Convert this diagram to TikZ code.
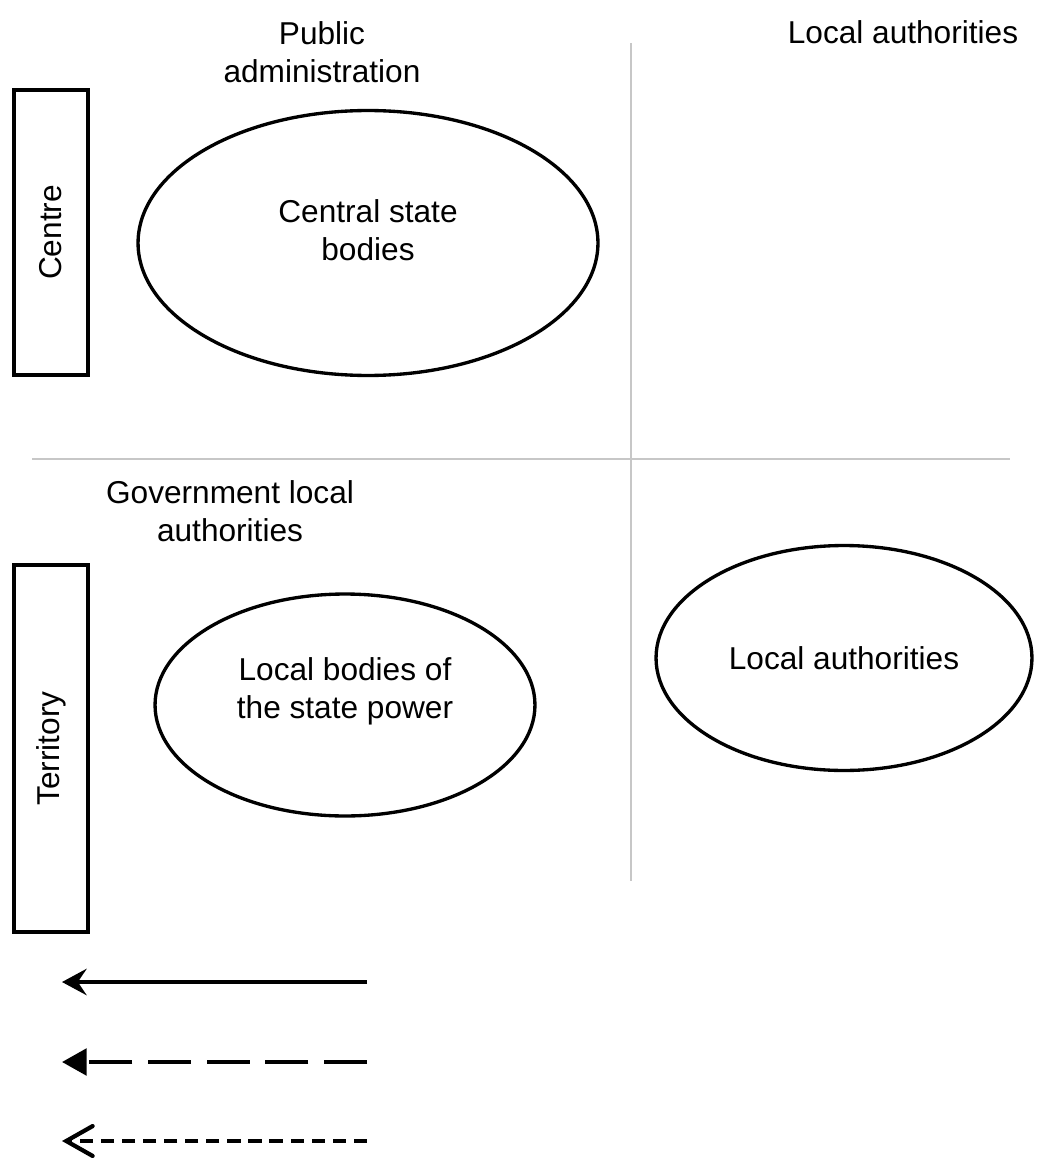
\documentclass[tikz,border=0pt]{standalone}
\usepackage{fontspec}
\setmainfont{Liberation Sans}
\usetikzlibrary{arrows.meta,shapes.geometric}

\begin{document}
\begin{tikzpicture}[x=0.02cm, y=-0.02cm,
        sidebox/.style={draw, line width=2.2pt, rotate=90, minimum height=1.48cm, inner sep=0pt},
        body/.style={draw, ellipse, line width=1.9pt, inner sep=0pt},
        divider/.style={line width=1.1pt, black!22},
        lbl/.style={align=center},
        solidline/.style={line width=2.5pt, -{Stealth[length=14pt, width=15pt, inset=5pt]}},
        longdash/.style={line width=2.4pt, dash pattern=on 24.4pt off 9pt, -{Triangle[length=14pt, width=15pt]}},
        shortdash/.style={line width=2.4pt, dash pattern=on 7.5pt off 4.5pt, -{Straight Barb[length=15pt, width=17pt, line cap=round]}}]
        \useasboundingbox (0,0) rectangle (1040,1169);
        \fontsize{18}{21.5}\selectfont

        % Разделители
        \coordinate (vtop) at (631,43);
        \coordinate (vbot) at (631,881);
        \coordinate (hleft) at (32,459);
        \coordinate (hright) at (1010,459);
        \draw[divider] (vtop) -- (vbot);
        \draw[divider] (hleft) -- (hright);

        % Заголовки
        \node[lbl] (pubadm) at (322,52) {Public\\administration};
        \node (loctop) at (903,32) {Local authorities};
        \node[lbl] (govloc) at (230,511) {Government local\\authorities};

        % Уровни
        \node[sidebox, minimum width=5.7cm] (centre) at (51,232.5) {Centre};
        \node[sidebox, minimum width=7.34cm] (territory) at (51,748.5) {Territory};

        % Органы
        \node[body, minimum width=9.2cm, minimum height=5.3cm] (csb) at (368,243) {};
        \node[lbl] (csbtext) at (368,230) {Central state\\bodies};
        \node[body, minimum width=7.6cm, minimum height=4.44cm] (lbsp) at (345,705) {};
        \node[lbl] (lbsptext) at (345,691) {Local bodies of\\the state power};
        \node[body, minimum width=7.52cm, minimum height=4.5cm] (locauth) at (844,658) {Local authorities};

        % Стрелки
        \coordinate (s1) at (367,982);
        \coordinate (e1) at (62,982);
        \coordinate (s2) at (367,1062);
        \coordinate (e2) at (62,1062);
        \coordinate (s3) at (367,1141);
        \coordinate (e3) at (62,1141);
        \draw[solidline] (s1) -- (e1);
        \draw[longdash] (s2) -- (e2);
        \draw[shortdash] (s3) -- (e3);
\end{tikzpicture}
\end{document}
